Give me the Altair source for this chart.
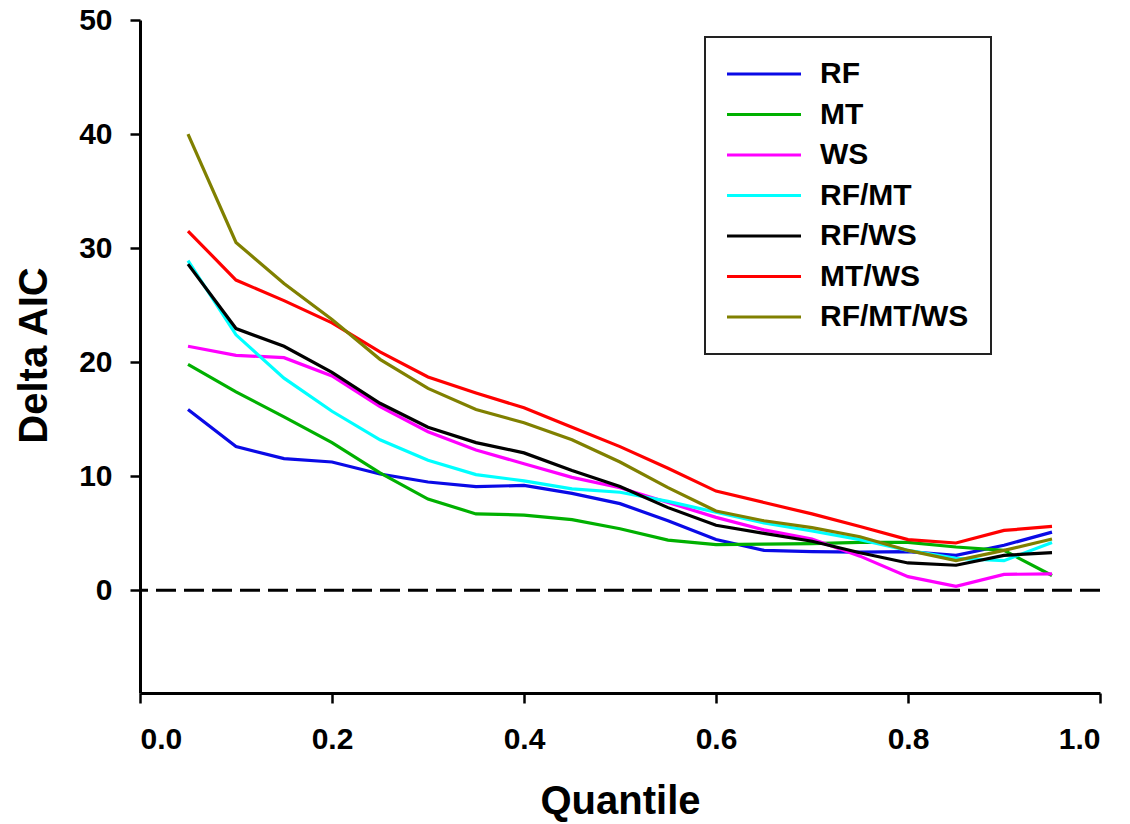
import altair as alt
import pandas as pd

quantiles = [0.05, 0.10, 0.15, 0.20, 0.25, 0.30, 0.35, 0.40, 0.45, 0.50,
             0.55, 0.60, 0.65, 0.70, 0.75, 0.80, 0.85, 0.90, 0.95]

series_names = ["RF", "MT", "WS", "RF/MT", "RF/WS", "MT/WS", "RF/MT/WS"]
series_colors = ["#0a0ae6", "#00b000", "#ff00ff", "#00ffff", "#000000", "#ff0000", "#808000"]

rf = [15.85, 12.6, 11.55, 11.25, 10.2, 9.5, 9.1, 9.2, 8.5, 7.6,
      6.1, 4.45, 3.5, 3.4, 3.35, 3.4, 3.07, 3.95, 5.1]
mt = [19.8, 17.4, 15.2, 12.95, 10.3, 8.0, 6.7, 6.6, 6.2, 5.4,
      4.4, 4.0, 4.05, 4.1, 4.2, 4.2, 3.8, 3.5, 1.3]
ws = [21.4, 20.6, 20.4, 18.8, 16.1, 13.9, 12.3, 11.1, 9.9, 9.0,
      7.7, 6.4, 5.3, 4.5, 3.0, 1.2, 0.35, 1.4, 1.45]
rf_mt = [28.9, 22.4, 18.6, 15.7, 13.2, 11.4, 10.15, 9.6, 8.9, 8.6,
         7.8, 6.85, 5.9, 5.2, 4.45, 3.5, 2.8, 2.6, 4.2]
rf_ws = [28.6, 22.95, 21.4, 19.1, 16.4, 14.3, 12.95, 12.05, 10.5, 9.1,
         7.25, 5.7, 5.0, 4.3, 3.3, 2.4, 2.2, 3.07, 3.3]
mt_ws = [31.5, 27.2, 25.4, 23.45, 20.9, 18.7, 17.3, 16.0, 14.3, 12.6,
         10.7, 8.7, 7.7, 6.7, 5.6, 4.45, 4.15, 5.25, 5.6]
rf_mt_ws = [40.0, 30.5, 26.9, 23.75, 20.25, 17.7, 15.85, 14.7, 13.2, 11.25,
            9.0, 6.95, 6.1, 5.5, 4.7, 3.5, 2.6, 3.5, 4.5]

y_ticks = [0, 10, 20, 30, 40, 50]
x_ticks = [0.0, 0.2, 0.4, 0.6, 0.8, 1.0]
zero_line = [0]

all_series = [rf, mt, ws, rf_mt, rf_ws, mt_ws, rf_mt_ws]
rows = []
for name, vals in zip(series_names, all_series):
    for q, v in zip(quantiles, vals):
        rows.append({"Quantile": q, "Delta AIC": v, "Model": name})
df = pd.DataFrame(rows)

FONT = "Liberation Sans"

x_enc = alt.X("Quantile:Q",
              scale=alt.Scale(domain=[0, 1], nice=False, zero=False),
              axis=alt.Axis(values=x_ticks, format=".1f", title="Quantile",
                            titleX=480, titleY=120, titleBaseline="alphabetic",
                            titleAlign="center", labelPadding=21))
y_enc = alt.Y("Delta AIC:Q",
              scale=alt.Scale(domain=[-9, 50], nice=False, zero=False),
              axis=alt.Axis(values=y_ticks, title="Delta AIC",
                            titleX=-94, titleY=335, titleAngle=-90,
                            titleBaseline="alphabetic", titleAlign="center",
                            labelPadding=18))

lines = alt.Chart(df).mark_line(strokeWidth=3.2).encode(
    x=x_enc,
    y=y_enc,
    color=alt.Color("Model:N",
                    scale=alt.Scale(domain=series_names, range=series_colors),
                    sort=series_names,
                    legend=alt.Legend(
                        title=None, orient="none", legendX=565, legendY=17,
                        symbolType="M-1.5,0L5.9,0", symbolSize=400,
                        symbolStrokeWidth=3.2, symbolOffset=0,
                        labelOffset=63, labelFontSize=30, labelFont=FONT,
                        labelFontWeight="bold", labelColor="black",
                        rowPadding=10.5, padding=22,
                        strokeColor="#222222", fillColor="white",
                        labelLimit=400)),
    order=alt.Order("Quantile:Q"),
)

rule = alt.Chart(pd.DataFrame({"y": zero_line})).mark_rule(
    color="black", strokeWidth=3, strokeDash=[20, 8]
).encode(y=alt.Y("y:Q"))

chart = alt.layer(rule, lines).properties(
    width=960, height=673,
    autosize=alt.AutoSizeParams(type="none"),
    padding={"left": 140, "top": 20, "right": 30, "bottom": 131},
).configure_view(strokeWidth=0).configure_axis(
    grid=False,
    domainColor="black", domainWidth=3,
    tickColor="black", tickWidth=2.5, tickSize=10,
    labelFont=FONT, labelFontSize=30, labelFontWeight="bold", labelColor="black",
    titleFont=FONT, titleFontSize=40, titleFontWeight="bold", titleColor="black",
).configure_legend(strokeWidth=2)

chart.save("out.html", embed_options={"renderer": "svg", "actions": False})
